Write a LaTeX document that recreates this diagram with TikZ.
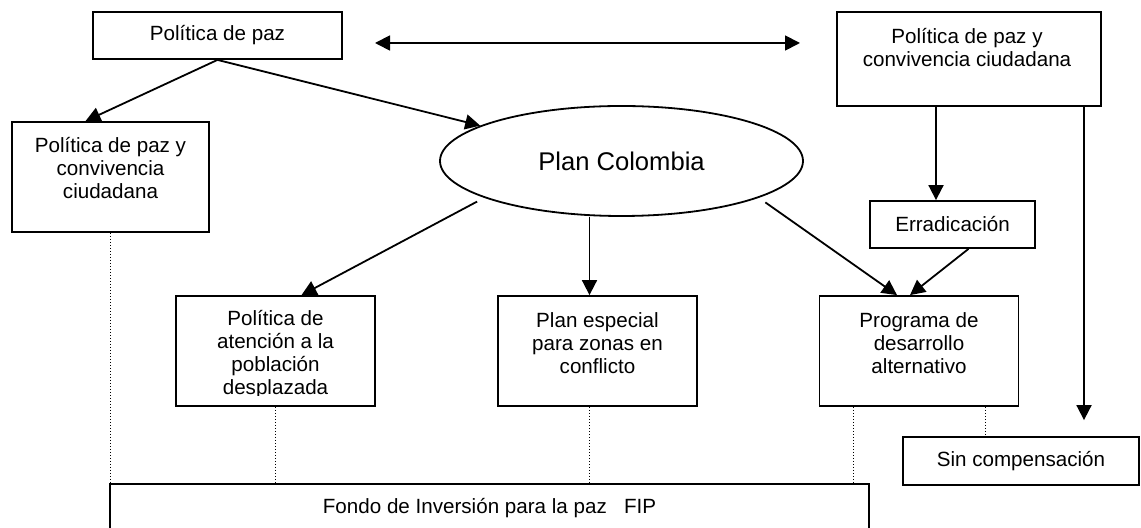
\documentclass[tikz,border=0pt]{standalone}
\usepackage{fontspec}
\setmainfont{Liberation Sans}
\usetikzlibrary{shapes, calc, arrows.meta}

\tikzset{
	box/.style={draw, line width=0.9pt, rectangle, inner sep=0pt, minimum width=99.5pt, minimum height=55pt},
	txt/.style={align=center, inner sep=0pt, font=\fontsize{10.3}{11.5}\selectfont},
	arr/.style={line width=0.9pt, -{Triangle[length=7.5pt,width=7.5pt]}},
	arrs/.style={line width=0.9pt, {Triangle[length=7.5pt,width=7.5pt]}-{Triangle[length=7.5pt,width=7.5pt]}},
	dots/.style={densely dotted, line width=0.5pt},
}

\begin{document}
\begin{tikzpicture}[x=0.5pt, y=-0.5pt]
	\clip (0,0) rectangle (1141,528);

	% arriba
	\node[box, txt, minimum width=124.5pt, minimum height=23.5pt] (paz) at (217.5,35.5) {Política de paz};
	\node[box, minimum width=132pt, minimum height=47pt] (rconv) at (969,59) {};
	\node[txt] at (967,47.5) {Política de paz y\\convivencia ciudadana};
	\coordinate (dl) at (375,43);
	\coordinate (dr) at (800,43);
	\draw[arrs] (dl) -- (dr);

	\node[box, minimum width=98.5pt] (lconv) at (110.5,177) {};
	\node[txt] at (110.5,168.5) {Política de paz y\\convivencia\\ciudadana};
	\node[draw, ellipse, line width=0.9pt, inner sep=0pt, minimum width=181.5pt, minimum height=55pt, font=\fontsize{12.8}{14}\selectfont] (plan) at (621.5,161) {Plan Colombia};
	\node[box, txt, minimum width=82.5pt, minimum height=23.5pt] (erra) at (952.5,224.5) {Erradicación};

	% abajo
	\node[box] (aten) at (275.5,351) {};
	\begin{scope}
		\clip (176,296) rectangle (375,396);
		\node[txt] at (275.5,355) {Política de\\atención a la\\población\\desplazada};
	\end{scope}
	\node[box] (pesp) at (597.5,351) {};
	\node[txt] at (597.5,343.5) {Plan especial\\para zonas en\\conflicto};
	\node[box] (prog) at (919,351) {};
	\node[txt] at (919,343.5) {Programa de\\desarrollo\\alternativo};
	\node[box, txt, minimum width=118pt, minimum height=24pt] (sinc) at (1021,461) {Sin compensación};
	\node[box, txt, minimum width=379.5pt, minimum height=24pt] (fip) at (489.5,508) {Fondo de Inversión para la paz~~~FIP};

	\coordinate (pespin) at ($(pesp.north)+(-8,0)$);
	\coordinate (sinin) at ($(sinc.north)+(63,-16)$);

	\draw[arr] (paz.south) -- ($(lconv.north)+(-25,0)$);
	\draw[arr] (paz.south) -- (plan);
	\draw[arr, shorten <=4pt] (plan.195) -- ($(aten.north)+(26,0)$);
	\draw[arr] (plan.south -| pespin) -- (pespin);
	\draw[arr, shorten <=4pt] (plan.345) -- ($(prog.north)+(-22,0)$);
	\draw[arr] ($(erra.south)+(16,0)$) -- ($(prog.north)+(-9,0)$);
	\draw[arr] ($(rconv.south)+(-33,0)$) -- ($(erra.north)+(-16.5,0)$);
	\draw[arr] ($(rconv.south)+(115,0)$) -- (sinin);

	% lineas punteadas
	\draw[dots] (lconv.south) -- (lconv.south |- fip.north);
	\draw[dots] (aten.south) -- (aten.south |- fip.north);
	\draw[dots] ($(pesp.south)+(-8,0)$) -- ($(pesp.south |- fip.north)+(-8,0)$);
	\draw[dots] ($(prog.south)+(-66,0)$) -- ($(prog.south |- fip.north)+(-66,0)$);
	\draw[dots] ($(prog.south)+(66,0)$) -- ($(prog.south |- sinc.north)+(66,0)$);
\end{tikzpicture}
\end{document}
